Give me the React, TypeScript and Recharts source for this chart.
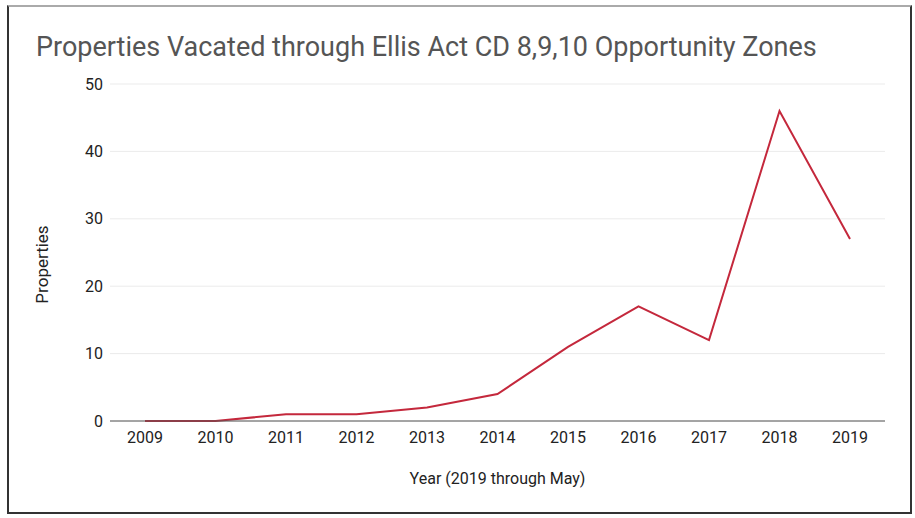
import React from "react";
import {
  LineChart,
  Line,
  XAxis,
  YAxis,
  CartesianGrid,
  Label,
} from "recharts";

const years = ["2009", "2010", "2011", "2012", "2013", "2014", "2015", "2016", "2017", "2018", "2019"];
const properties = [0, 0, 1, 1, 2, 4, 11, 17, 12, 46, 27];
const yTicks = [0, 10, 20, 30, 40, 50];

const data = years.map((year, i) => ({ year, properties: properties[i] }));

const font = "Roboto, 'Noto Sans', Arial, sans-serif";

export default function App() {
  return (
    <div
      style={{
        position: "absolute",
        top: 0,
        left: 0,
        width: 915,
        height: 518,
        background: "#fff",
        fontFamily: font,
      }}
    >
      <div
        style={{
          position: "absolute",
          left: 7,
          top: 5,
          width: 901,
          height: 505,
          borderLeft: "2px solid #333",
          borderRight: "2px solid #333",
          borderBottom: "2px solid #333",
          borderTop: "2px solid #aaa",
        }}
      />
      <div
        style={{
          position: "absolute",
          left: 36,
          top: 31,
          fontSize: 27,
          lineHeight: "normal",
          color: "#555",
          whiteSpace: "nowrap",
        }}
      >
        Properties Vacated through Ellis Act CD 8,9,10 Opportunity Zones
      </div>
      <LineChart
        width={915}
        height={518}
        data={data}
        margin={{ top: 84, right: 30, left: 0, bottom: 0 }}
        style={{ position: "absolute", top: 0, left: 0 }}
      >
        <CartesianGrid vertical={false} stroke="#ebebeb" />
        <XAxis
          dataKey="year"
          height={97}
          padding={{ left: 35, right: 35 }}
          stroke="#555"
          tickLine={false}
          tickSize={0}
          tickMargin={11}
          tick={{ fill: "#222", fontSize: 16, fontFamily: font }}
        >
          <Label
            value="Year (2019 through May)"
            position="center"
            dy={9}
            style={{ fill: "#222", fontSize: 16, fontFamily: font }}
          />
        </XAxis>
        <YAxis
          width={110}
          domain={[0, 50]}
          ticks={yTicks}
          axisLine={false}
          tickLine={false}
          tickSize={0}
          tickMargin={7}
          tick={{ fill: "#222", fontSize: 16, fontFamily: font }}
        >
          <Label
            value="Properties"
            angle={-90}
            position="center"
            dx={-13}
            dy={12}
            style={{ fill: "#222", fontSize: 17, fontFamily: font }}
          />
        </YAxis>
        <Line
          type="linear"
          dataKey="properties"
          stroke="#c4283c"
          strokeWidth={2}
          dot={false}
          isAnimationActive={false}
        />
      </LineChart>
    </div>
  );
}
